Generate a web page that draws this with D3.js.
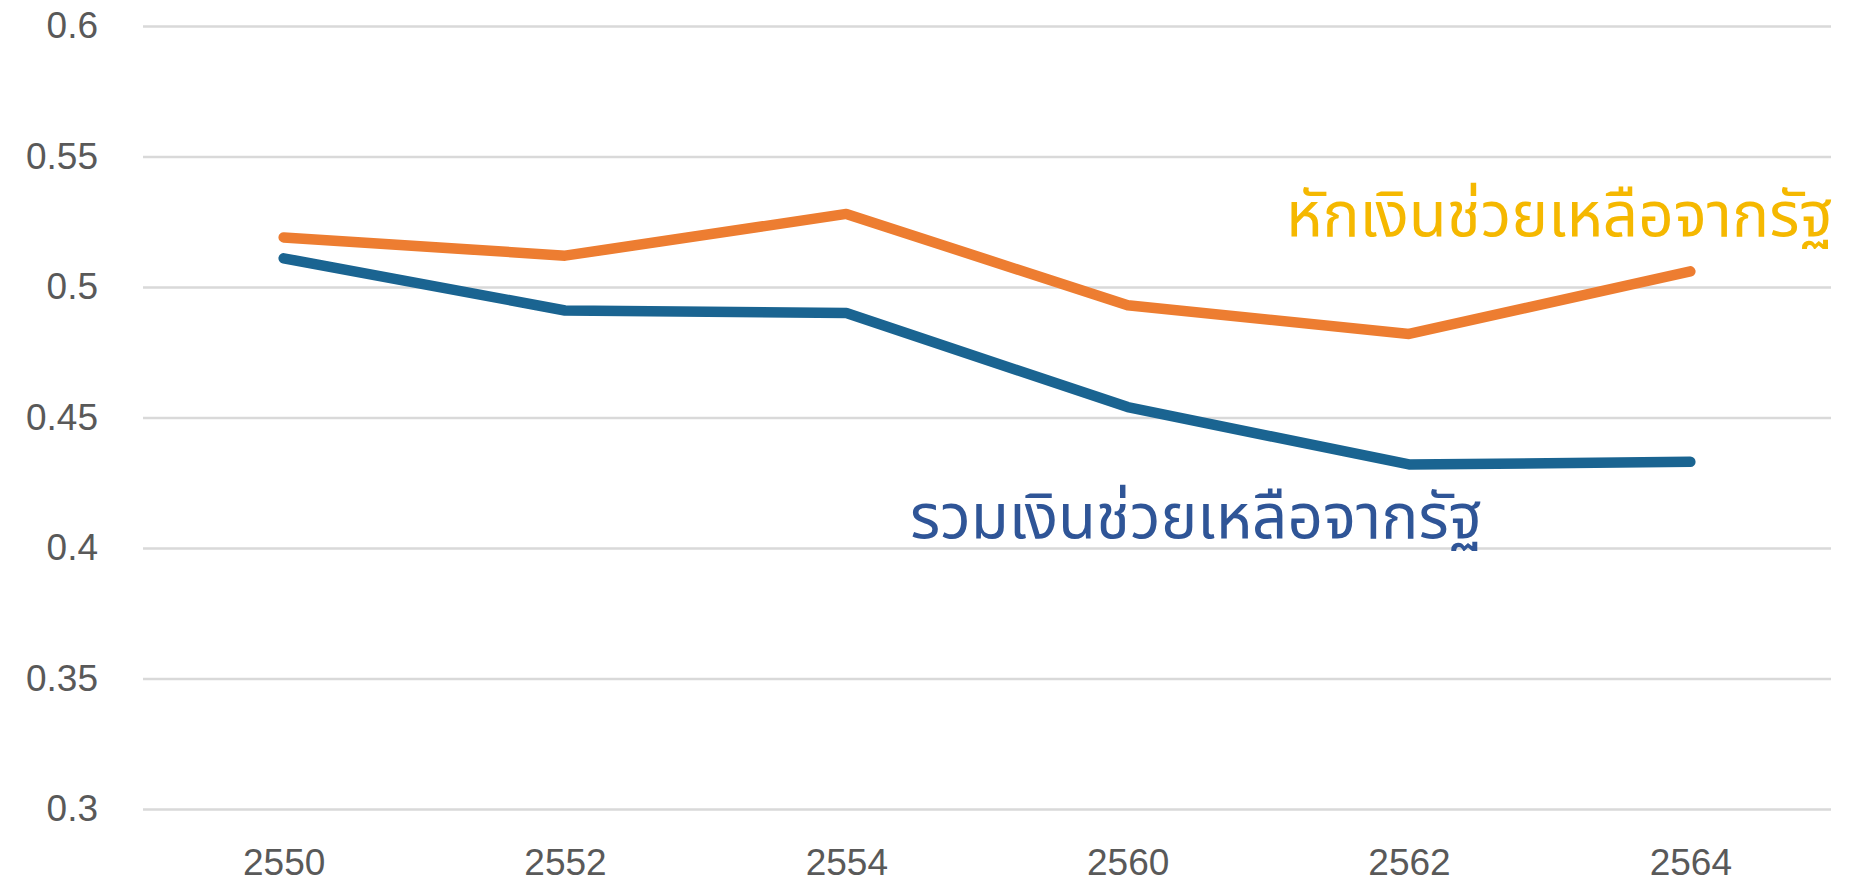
<!DOCTYPE html>
<html>
<head>
<meta charset="utf-8">
<script src="https://cdn.jsdelivr.net/npm/d3@7"></script>
<style>
  html, body { margin: 0; padding: 0; background: #fff; }
  .tick text { font-family: "Liberation Sans", Arial, sans-serif; fill: #595959; }
  .label { font-family: "Noto Sans Thai", "Noto Sans", Tahoma, sans-serif; }
</style>
</head>
<body>
<div id="chart"></div>
<script>
// ---- DATA ----
const years = ["2550", "2552", "2554", "2560", "2562", "2564"];
const withoutAid = [0.519, 0.512, 0.528, 0.493, 0.482, 0.506];   // หักเงินช่วยเหลือจากรัฐ
const withAid = [0.511, 0.491, 0.490, 0.454, 0.432, 0.433];      // รวมเงินช่วยเหลือจากรัฐ
const yTicks = [0.3, 0.35, 0.4, 0.45, 0.5, 0.55, 0.6];
const yTickLabels = ["0.3", "0.35", "0.4", "0.45", "0.5", "0.55", "0.6"];

const width = 1853;
const height = 886;
const margin = { top: 26, right: 22, bottom: 77, left: 143 };

const svg = d3.select("#chart")
  .append("svg")
  .attr("width", width)
  .attr("height", height);

// ---- SCALES ----
const x = d3.scalePoint()
  .domain(years)
  .range([margin.left, width - margin.right])
  .padding(0.5);

const y = d3.scaleLinear()
  .domain([0.3, 0.6])
  .range([height - margin.bottom, margin.top]);

// ---- GRID / Y AXIS ----
const yAxis = svg.append("g")
  .attr("transform", `translate(${margin.left},0)`)
  .call(d3.axisLeft(y)
    .tickValues(yTicks)
    .tickFormat((d, i) => yTickLabels[i])
    .tickSize(-(width - margin.left - margin.right))
    .tickPadding(45));
yAxis.select(".domain").remove();
yAxis.selectAll(".tick line").attr("stroke", "#d9d9d9").attr("stroke-width", 2.5);
yAxis.selectAll(".tick text").attr("font-size", 37);

// ---- X AXIS ----
const xAxis = svg.append("g")
  .attr("transform", `translate(0,${height - margin.bottom})`)
  .call(d3.axisBottom(x).tickSize(0).tickPadding(40));
xAxis.select(".domain").remove();
xAxis.selectAll(".tick text").attr("font-size", 37);

// ---- LINES ----
const line = d3.line()
  .x((d, i) => x(years[i]))
  .y(d => y(d));

svg.append("path")
  .datum(withoutAid)
  .attr("fill", "none")
  .attr("stroke", "#ED7D31")
  .attr("stroke-width", 10.5)
  .attr("stroke-linecap", "round")
  .attr("stroke-linejoin", "round")
  .attr("d", line);

svg.append("path")
  .datum(withAid)
  .attr("fill", "none")
  .attr("stroke", "#1A6491")
  .attr("stroke-width", 10.5)
  .attr("stroke-linecap", "round")
  .attr("stroke-linejoin", "round")
  .attr("d", line);

// ---- LABELS ----
svg.append("text")
  .attr("class", "label")
  .attr("x", 1286)
  .attr("y", 236)
  .attr("font-size", 62)
  .attr("fill", "#F5B800")
  .text("หักเงินช่วยเหลือจากรัฐ");

svg.append("text")
  .attr("class", "label")
  .attr("x", 910)
  .attr("y", 538)
  .attr("font-size", 62)
  .attr("fill", "#2F5597")
  .text("รวมเงินช่วยเหลือจากรัฐ");
</script>
</body>
</html>
